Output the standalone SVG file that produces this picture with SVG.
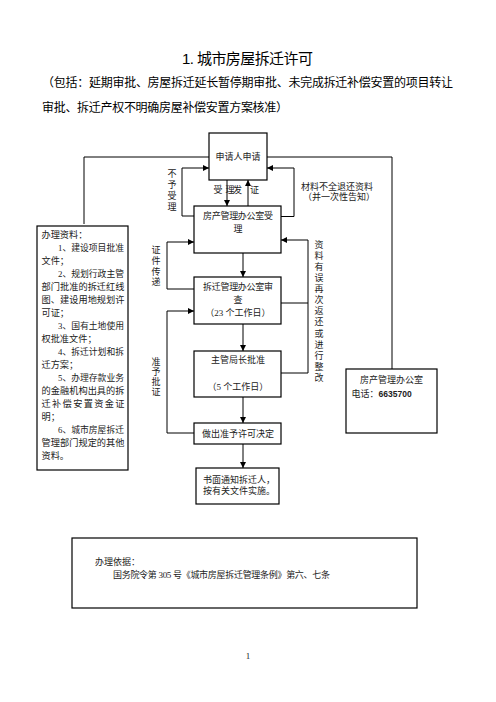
<svg xmlns="http://www.w3.org/2000/svg" width="496" height="702" viewBox="0 0 496 702">
<style>
.bx{fill:#fff;stroke:#000;stroke-width:1.2}
.ln{fill:none;stroke:#000;stroke-width:1}
.t{font-family:"Liberation Serif","Noto Sans CJK SC",serif;font-size:9px;fill:#222;dominant-baseline:central}
.c{text-anchor:middle}
.m{font-size:9.2px}
.i{font-size:8.8px}
.h{font-family:"Liberation Sans","Noto Sans CJK SC",sans-serif;fill:#000;dominant-baseline:central}
</style>
<defs>
<marker id="ah" markerUnits="userSpaceOnUse" markerWidth="6" markerHeight="6" refX="6" refY="3" orient="auto">
<path d="M0,0 L6,3 L0,6 z" fill="#000"/>
</marker>
</defs>
<rect width="496" height="702" fill="#fff"/>

<g id="title">
<text class="h" x="182" y="58" font-size="15" textLength="131">1. 城市房屋拆迁许可</text>
<text class="h" x="42" y="83" font-size="12" textLength="411">（包括：延期审批、房屋拆迁延长暂停期审批、未完成拆迁补偿安置的项目转让</text>
<text class="h" x="42" y="108" font-size="12" textLength="246">审批、拆迁产权不明确房屋补偿安置方案核准）</text>
</g>

<g id="connectors">
<path class="ln" d="M84,224 V157 H209"/>
<path class="ln" d="M267,157 H392 V369"/>
<path class="ln" d="M227,180 V206" marker-end="url(#ah)"/>
<path class="ln" d="M248,206 V180" marker-end="url(#ah)"/>
<path class="ln" d="M194,216 H182 V168 H209" marker-end="url(#ah)"/>
<path class="ln" d="M281,216.5 H294 V168 H267" marker-end="url(#ah)"/>
<path class="ln" d="M194,289 H167 V242 H194" marker-end="url(#ah)"/>
<path class="ln" d="M281,373 H308 V240 H281" marker-end="url(#ah)"/>
<path class="ln" d="M281,303 H308"/>
<path class="ln" d="M243,253 V277" marker-end="url(#ah)"/>
<path class="ln" d="M243,324 V351" marker-end="url(#ah)"/>
<path class="ln" d="M243,397 V423" marker-end="url(#ah)"/>
<path class="ln" d="M194,433 H167 V311 H194" marker-end="url(#ah)"/>
<path class="ln" d="M243,444 V468" marker-end="url(#ah)"/>
</g>

<g id="labels">
<text class="t c" x="172" y="174">不</text>
<text class="t c" x="172" y="185">予</text>
<text class="t c" x="172" y="196">受</text>
<text class="t c" x="172" y="207">理</text>
<text class="t c" x="218" y="190" font-size="8">受</text>
<text class="t c" x="230" y="190" font-size="8">理</text>
<text class="t c" x="237.5" y="190" font-size="8">发</text>
<text class="t c" x="254.5" y="190" font-size="8">证</text>
<text class="t" x="301" y="186.5" font-size="8.6">材料不全退还资料</text>
<text class="t" x="303" y="197" font-size="8.6">（并一次性告知）</text>
<text class="t c" x="156" y="250">证</text>
<text class="t c" x="156" y="261">件</text>
<text class="t c" x="156" y="271.5">传</text>
<text class="t c" x="156" y="281.5">递</text>
<text class="t c" x="156" y="361.5">准</text>
<text class="t c" x="156" y="371.5">予</text>
<text class="t c" x="156" y="381.5">批</text>
<text class="t c" x="156" y="391.5">证</text>
<text class="t c" x="319" y="245">资</text>
<text class="t c" x="319" y="256">料</text>
<text class="t c" x="319" y="267">有</text>
<text class="t c" x="319" y="278">误</text>
<text class="t c" x="319" y="289">再</text>
<text class="t c" x="319" y="300">次</text>
<text class="t c" x="319" y="311">返</text>
<text class="t c" x="319" y="322">还</text>
<text class="t c" x="319" y="334">或</text>
<text class="t c" x="319" y="345">进</text>
<text class="t c" x="319" y="356">行</text>
<text class="t c" x="319" y="367">整</text>
<text class="t c" x="319" y="378">改</text>
</g>

<g id="n-apply">
<rect class="bx" x="209" y="133" width="58" height="47"/>
<text class="t c" x="238" y="157">申请人申请</text>
</g>

<g id="n-accept">
<rect class="bx" x="194" y="206" width="87" height="47"/>
<text class="t" x="203" y="216" textLength="70">房产管理办公室受</text>
<text class="t c" x="238" y="228.5">理</text>
</g>

<g id="n-review">
<rect class="bx" x="194" y="277" width="87" height="47"/>
<text class="t" x="203" y="287" textLength="70">拆迁管理办公室审</text>
<text class="t c" x="238" y="300">查</text>
<text class="t c" x="238" y="313">（23 个工作日）</text>
</g>

<g id="n-approve">
<rect class="bx" x="194" y="351" width="87" height="46"/>
<text class="t c" x="238" y="360">主管局长批准</text>
<text class="t c" x="238" y="387">（5 个工作日）</text>
</g>

<g id="n-decide">
<rect class="bx" x="194" y="423" width="87" height="21"/>
<text class="t" x="202" y="434">做出准予许可决定</text>
</g>

<g id="n-notify">
<rect class="bx" x="196" y="468" width="83" height="36"/>
<text class="t" x="203" y="480">书面通知拆迁人，</text>
<text class="t" x="203" y="491">按有关文件实施。</text>
</g>

<g id="n-materials">
<rect class="bx" x="37" y="226" width="91" height="244"/>
<text class="t m" x="41.5" y="235">办理资料：</text>
<text class="t i" x="58" y="248">1、建设项目批准</text>
<text class="t m" x="41.5" y="261">文件；</text>
<text class="t i" x="58" y="274">2、规划行政主管</text>
<text class="t m" x="41.5" y="287" textLength="83">部门批准的拆迁红线</text>
<text class="t m" x="41.5" y="300" textLength="83">图、建设用地规划许</text>
<text class="t m" x="41.5" y="313">可证；</text>
<text class="t i" x="58" y="326">3、国有土地使用</text>
<text class="t m" x="41.5" y="339">权批准文件；</text>
<text class="t i" x="58" y="352">4、拆迁计划和拆</text>
<text class="t m" x="41.5" y="365">迁方案；</text>
<text class="t i" x="58" y="378">5、办理存款业务</text>
<text class="t m" x="41.5" y="391" textLength="83">的金融机构出具的拆</text>
<text class="t m" x="41.5" y="404" textLength="83">迁补偿安置资金证</text>
<text class="t m" x="41.5" y="417">明；</text>
<text class="t i" x="58" y="430">6、城市房屋拆迁</text>
<text class="t m" x="41.5" y="443" textLength="83">管理部门规定的其他</text>
<text class="t m" x="41.5" y="456">资料。</text>
</g>

<g id="n-office">
<rect class="bx" x="346" y="369" width="91" height="64"/>
<text class="t c" x="391.5" y="379.5">房产管理办公室</text>
<text class="t" x="351.5" y="393.5">电话：<tspan font-family="Liberation Sans" font-weight="bold" font-size="8.5">6635700</tspan></text>
</g>

<g id="n-basis">
<rect class="bx" x="72" y="538" width="345" height="70"/>
<text class="t" x="95" y="562">办理依据：</text>
<text class="t" x="113" y="574.5" textLength="217">国务院令第 305 号《城市房屋拆迁管理条例》第六、七条</text>
</g>

<text class="t c" x="248" y="656" font-size="7">1</text>
</svg>
